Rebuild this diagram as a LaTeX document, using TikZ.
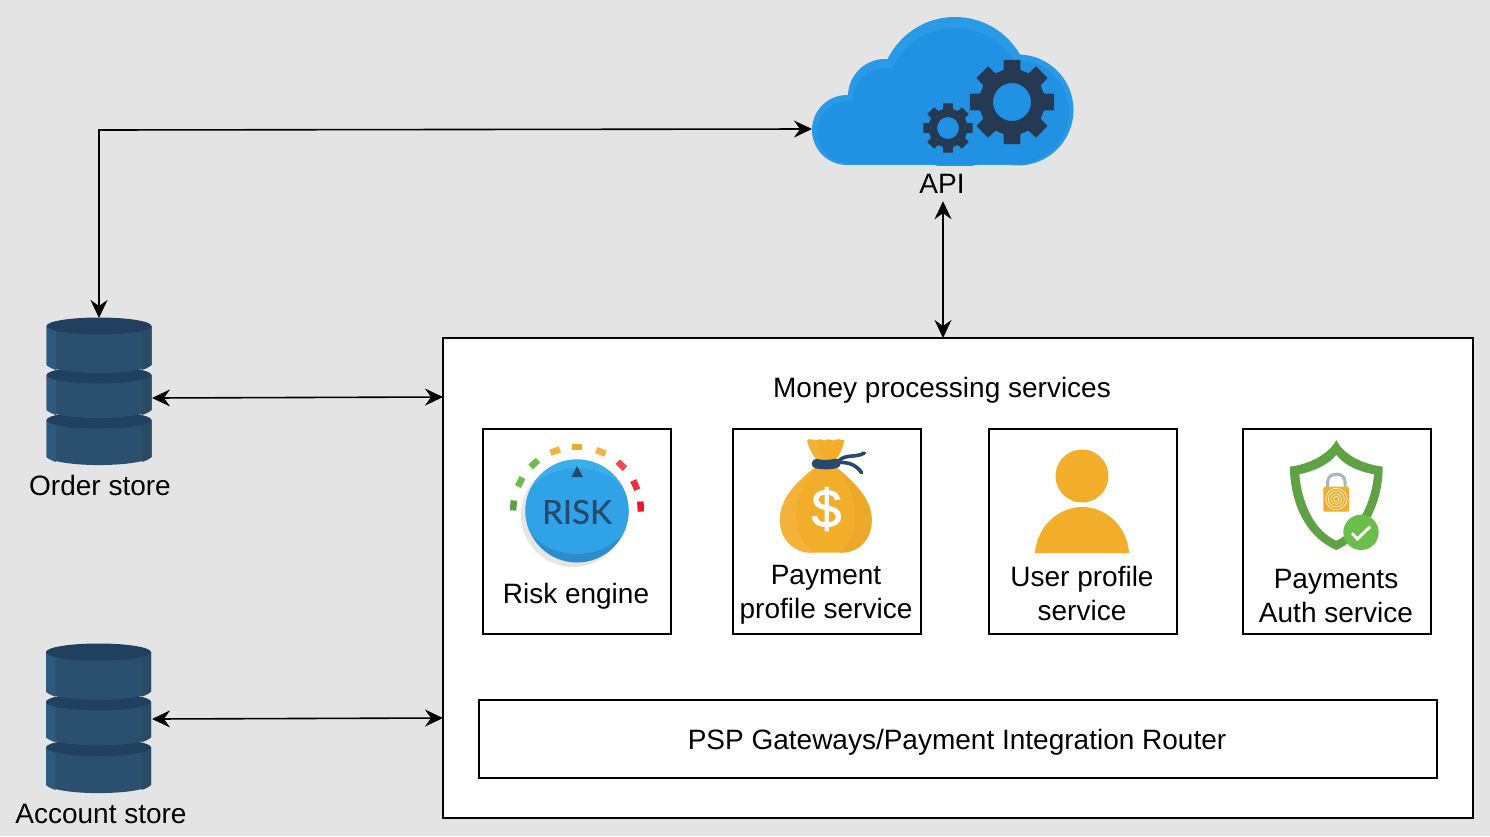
\documentclass[tikz,border=0pt]{standalone}
\usepackage{fontspec}
\setmainfont{Liberation Sans}
\usetikzlibrary{arrows.meta}
\definecolor{bgc}{HTML}{E4E4E4}
\definecolor{dbmain}{HTML}{2B4F6E}
\definecolor{dbleft}{HTML}{2E5A80}
\definecolor{dbright}{HTML}{2A4A66}
\definecolor{dbtop}{HTML}{213F5E}
\definecolor{cloudrim}{HTML}{2B9AE6}
\definecolor{cloudin}{HTML}{2191E3}
\definecolor{gearc}{HTML}{253A52}
\definecolor{amber}{HTML}{F2AE2B}
\definecolor{amberl}{HTML}{F3B33A}
\definecolor{amberd}{HTML}{EBA82A}
\definecolor{navy}{HTML}{27496D}
\definecolor{shield}{HTML}{5FA243}
\definecolor{okgreen}{HTML}{6CBE4A}
\definecolor{dialdark}{HTML}{2E8BCF}
\definecolor{diallight}{HTML}{3AB0EA}
\definecolor{dialmain}{HTML}{2FA2E8}
\definecolor{tgreend}{HTML}{5BA244}
\definecolor{tyellow}{HTML}{F2B441}
\definecolor{torange}{HTML}{F0A92B}
\definecolor{tredl}{HTML}{EA4A55}
\definecolor{tred}{HTML}{E82F3E}
\definecolor{tredd}{HTML}{E8192C}
\definecolor{lockgrey}{HTML}{A9B4BE}
\tikzset{
  x=1pt,y=-1pt,
  txt/.style={inner sep=0pt,align=center,font=\fontsize{28}{34}\selectfont,text=black},
  box/.style={draw=black,line width=2pt,fill=white,inner sep=0pt,outer sep=0pt},
  ghost/.style={inner sep=0pt,outer sep=0pt},
  conn/.style={draw=black,line width=1.6pt,{Stealth[length=18pt,width=17pt,inset=6pt]}-{Stealth[length=18pt,width=17pt,inset=6pt]}},
  tick/.style={line width=6.5pt}
}
\newcommand\dbtier[2]{%
  \fill[dbmain] (-52.5,#1) -- (-52.5,#2) .. controls (-40,#2+10.7) and (40,#2+10.7) .. (52.5,#2) -- (52.5,#1) -- cycle;
  \fill[dbleft] (-52.5,#1) -- (-52.5,#2) .. controls (-49,#2+3) and (-46,#2+4) .. (-43,#2+5) -- (-43,#1) -- cycle;
  \fill[dbright] (52.5,#1) -- (52.5,#2) .. controls (49,#2+3) and (46,#2+4) .. (43,#2+5) -- (43,#1) -- cycle;
  \fill[dbtop] (0,#1) ellipse [x radius=52.5,y radius=8.5];
}
\newcommand\dbicon[3]{%
  \begin{scope}[shift={(#1,#2)},yscale=#3]
    \dbtier{102}{139}\dbtier{57}{92}\dbtier{8}{47}
  \end{scope}
}
\newcommand\gearicon[5]{%
  \begin{scope}[shift={(#1,#2)}]
    \fill[gearc,even odd rule] (75:#4)
      \foreach \a in {90,135,...,405} { -- (\a-15:#4) -- (\a-11:#3) -- (\a+11:#3) -- (\a+15:#4) }
      -- cycle (0,0) circle [radius=#5];
  \end{scope}
}
\begin{document}
\begin{tikzpicture}
\useasboundingbox (0,0) rectangle (1490,836);
\fill[bgc] (0,0) rectangle (1490,836);

% cloud
\begin{scope}
\clip (800,0) rectangle (1090,165);
\fill[cloudrim] (847,130) circle [radius=35];
\fill[cloudrim] (885,96) circle [radius=37];
\fill[cloudrim] (955,92) circle [radius=75];
\fill[cloudrim] (1018,110) circle [radius=55.5];
\fill[cloudrim] (847,110) rectangle (1018,165);
\fill[cloudin] (848,132) circle [radius=31];
\fill[cloudin] (886,101) circle [radius=33];
\fill[cloudin] (955,98) circle [radius=70];
\fill[cloudin] (1017,112) circle [radius=52];
\fill[cloudin] (848,110) rectangle (1017,163);
\end{scope}
\gearicon{1012}{102}{43}{33}{19}
\gearicon{948}{128}{25}{19.5}{11}
\node[ghost,minimum width=262pt,minimum height=148pt] (cloud) at (943,91) {};
\node[txt,minimum height=34pt] (apilabel) at (942,184) {API};

% stores
\dbicon{99}{318}{1}
\node[ghost,minimum width=106pt,minimum height=147pt] (orderstore) at (99,391.5) {};
\node[txt] (orderlabel) at (100,485) {Order store};
\dbicon{98.5}{644}{1.014}
\node[ghost,minimum width=107pt,minimum height=149pt] (accountstore) at (98.5,718.5) {};
\node[txt] (accountlabel) at (101,814) {Account store};

% main container
\node[box,minimum width=1030pt,minimum height=480pt] (main) at (958,578) {};
\node[txt] (maintitle) at (942,390.5) {Money processing services};
\node[box,minimum width=188pt,minimum height=205pt] (riskbox) at (577,531.5) {};
\node[box,minimum width=188pt,minimum height=205pt] (paybox) at (827,531.5) {};
\node[box,minimum width=188pt,minimum height=205pt] (userbox) at (1083,531.5) {};
\node[box,minimum width=188pt,minimum height=205pt] (authbox) at (1337,531.5) {};
\node[box,minimum width=958pt,minimum height=78pt] (psp) at (958,739) {};
\node[txt] (psplabel) at (957,742) {PSP Gateways/Payment Integration Router};

% risk dial
\fill[black!10] (573,515) circle [radius=52];
\begin{scope}
  \clip (577,511) circle [radius=51.5];
  \fill[dialdark] (520,455) rectangle (640,570);
  \fill[diallight] (520,455) rectangle (640,520);
  \fill[dialmain] (577,511) ellipse [x radius=54,y radius=43];
\end{scope}
\begin{scope}[shift={(577,511)}]
  \draw[tick,tgreend] (-179.5:64) -- (-170.5:64);
  \draw[tick,okgreen] (-157.5:64) -- (-148.5:64);
  \draw[tick,okgreen] (-136.5:64) -- (-127.5:64);
  \draw[tick,tyellow] (-114.5:64) -- (-105.5:64);
  \draw[tick,torange] (-94.5:64) -- (-85.5:64);
  \draw[tick,tyellow] (-72.5:64) -- (-63.5:64);
  \draw[tick,tredl] (-50.5:64) -- (-41.5:64);
  \draw[tick,tred] (-28.5:64) -- (-19.5:64);
  \draw[tick,tredd] (-8.5:64) -- (0.5:64);
\end{scope}
\fill[navy] (577,466) -- (583,477) -- (571.5,477) -- cycle;
\node[ghost,text=navy,font={\fontspec[FakeBold=0.5]{Lato}\fontsize{33}{33}\selectfont}] (risktext) at (577,512) {RISK};
\node[txt] (risklabel) at (576,596) {Risk engine};

% money bag
\begin{scope}[shift={(730,425)},scale=1/3]
  \begin{scope}
    \clip (255,128) .. controls (200,170) and (150,220) .. (150,285) .. controls (150,350) and (200,383) .. (240,383) -- (335,383) .. controls (380,383) and (425,350) .. (425,285) .. controls (425,220) and (370,170) .. (320,128) -- cycle;
    \fill[amber] (140,120) rectangle (430,390);
    \fill[amberl] (140,120) -- (255,128) .. controls (190,200) and (170,320) .. (250,383) -- (140,390) -- cycle;
    \fill[amberd] (320,128) .. controls (385,200) and (400,320) .. (330,383) -- (430,390) -- (430,120) -- cycle;
  \end{scope}
  \fill[amber] (232,45) .. controls (242,38) and (252,50) .. (262,45) .. controls (272,38) and (280,50) .. (288,45) .. controls (298,38) and (306,50) .. (316,45) .. controls (326,38) and (335,48) .. (343,45) .. controls (340,70) and (325,95) .. (315,108) -- (262,108) .. controls (250,90) and (235,70) .. (232,45) -- cycle;
  \fill[amberl] (232,45) .. controls (242,38) and (252,50) .. (262,45) .. controls (262,70) and (275,95) .. (285,108) -- (262,108) .. controls (250,90) and (235,70) .. (232,45) -- cycle;
  \draw[navy,line width=3.6pt,line cap=round] (325,108) .. controls (350,85) and (375,100) .. (403,84);
  \draw[navy,line width=3.6pt,line cap=round] (325,112) .. controls (350,112) and (375,115) .. (395,143);
  \draw[navy,line width=9.5pt,line cap=round] (259,116) .. controls (280,120) and (300,120) .. (318,115);
\end{scope}
\node[ghost,text=white,font={\fontspec[FakeBold=1.5]{Liberation Sans}\fontsize{54}{54}\selectfont}] (dollar) at (826.5,509) {\$};
\node[txt] (paylabel) at (826,595) {Payment\\profile service};

% user
\fill[amber] (1082,476) circle [radius=26.5];
\fill[amber] (1035,553) .. controls (1037,525) and (1060,507) .. (1082,507) .. controls (1105,507) and (1127,525) .. (1129,553) -- cycle;
\node[txt] (userlabel) at (1082,593) {User profile\\service};

% shield
\begin{scope}[shift={(1240,425)},scale=1/3]
  \fill[shield] (289,45) .. controls (265,90) and (205,118) .. (150,125) .. controls (150,230) and (195,335) .. (289,375) .. controls (380,335) and (428,230) .. (428,125) .. controls (370,118) and (310,90) .. (289,45) -- cycle;
  \fill[white] (289,90) .. controls (265,120) and (220,140) .. (178,148) .. controls (185,230) and (220,315) .. (289,347) .. controls (355,315) and (395,230) .. (402,148) .. controls (355,140) and (310,120) .. (289,90) -- cycle;
  \draw[lockgrey,line width=3pt] (263,190) -- (263,170) .. controls (263,140) and (315,140) .. (315,170) -- (315,190);
  \fill[amber,rounded corners=1.5pt] (250,185) rectangle (327,260);
  \foreach \r in {8,16,24,32} { \draw[white,line width=0.7pt,opacity=.85] (289,222) circle [radius=\r]; }
  \fill[okgreen] (363,322) circle [radius=53];
  \draw[white,line width=3pt] (336,325) -- (352,342) -- (390,305);
\end{scope}
\node[txt] (authlabel) at (1336,596) {Payments\\Auth service};

% connectors
\coordinate (corner) at (99,130);
\draw[conn] ([yshift=-38pt]cloud.west) -- (corner) -- (orderstore.north);
\draw[conn] ([xshift=1pt]apilabel.south) -- ([xshift=-15pt]main.north);
\draw[conn] ([yshift=-6.5pt]orderstore.east) -- ([yshift=181pt]main.west);
\draw[conn] ([yshift=-0.5pt]accountstore.east) -- ([yshift=-140pt]main.west);
\end{tikzpicture}
\end{document}
